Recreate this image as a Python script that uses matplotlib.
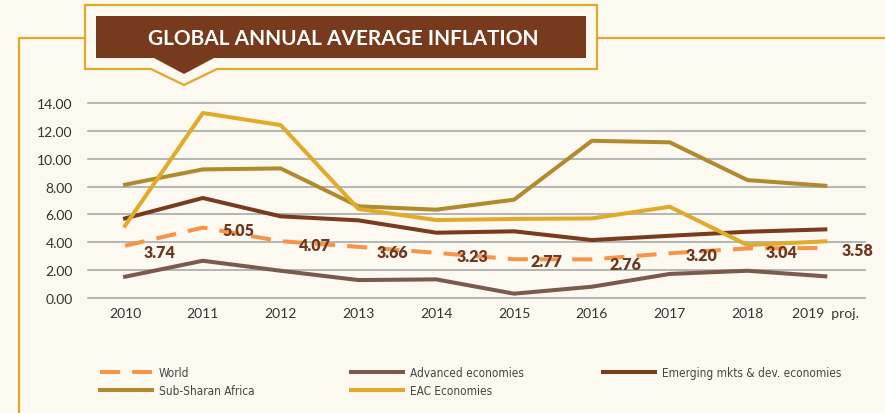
import matplotlib
matplotlib.use("Agg")
import matplotlib.pyplot as plt
from matplotlib.patches import Polygon
from matplotlib.lines import Line2D
from matplotlib import font_manager

# data
years = ["2010", "2011", "2012", "2013", "2014", "2015", "2016", "2017", "2018", "2019  proj."]
world = [3.74, 5.05, 4.07, 3.66, 3.23, 2.77, 2.76, 3.20, 3.55, 3.58]
world_labels = ["3.74", "5.05", "4.07", "3.66", "3.23", "2.77", "2.76", "3.20", "3.04", "3.58"]
advanced = [1.51, 2.66, 1.94, 1.27, 1.32, 0.29, 0.79, 1.71, 1.94, 1.54]
emerging = [5.71, 7.18, 5.86, 5.57, 4.68, 4.78, 4.15, 4.46, 4.75, 4.92]
ssa = [8.14, 9.24, 9.31, 6.58, 6.34, 7.06, 11.30, 11.19, 8.47, 8.06]
eac = [5.18, 13.30, 12.43, 6.39, 5.59, 5.67, 5.71, 6.55, 3.79, 4.06]
yticks = [0, 2, 4, 6, 8, 10, 12, 14]

# where the world value labels sit (x offset in years, y in chart units)
label_dx = [0.44, 0.46, 0.44, 0.44, 0.46, 0.42, 0.43, 0.41, 0.44, 0.42]
label_y = [3.27, 4.90, 3.82, 3.31, 3.02, 2.62, 2.43, 3.07, 3.31, 3.43]

BG = "#FCF9F0"
GOLD = "#E2A82B"
BROWN = "#783A1D"
c_world = "#F6954A"
c_adv = "#7B5A4C"
c_emg = "#7A3A1C"
c_ssa = "#B08A2C"
c_eac = "#E0AA2A"

plt.rcParams["font.family"] = ["Lato", "DejaVu Sans"]

W, H = 885, 414
fig = plt.figure(figsize=(W / 100, H / 100), dpi=100, facecolor=BG)


def px(x, y):
    return (x / W, 1 - y / H)


# gold frame
fig.add_artist(Line2D([px(19, 0)[0], px(19, 0)[0], px(85, 0)[0]],
                      [px(0, 414)[1], px(0, 39)[1], px(0, 39)[1]],
                      color=GOLD, lw=1.6, transform=fig.transFigure))
fig.add_artist(Line2D([px(597, 0)[0], 1], [px(0, 39)[1]] * 2,
                      color=GOLD, lw=1.6, transform=fig.transFigure))

# title box
outer = [(85, 6), (597, 6), (597, 70), (217, 70), (184, 86), (151, 70), (85, 70)]
fig.add_artist(Polygon([px(*p) for p in outer], closed=True, facecolor=BG,
                       edgecolor=GOLD, lw=1.6, transform=fig.transFigure))
inner = [(96, 17), (586, 17), (586, 59), (214, 59), (184, 75), (154, 59), (96, 59)]
fig.add_artist(Polygon([px(*p) for p in inner], closed=True, facecolor=BROWN,
                       edgecolor="none", transform=fig.transFigure))
fig.text(*px(343, 39), "GLOBAL ANNUAL AVERAGE INFLATION", color="white",
         fontsize=15, fontweight="bold", ha="center", va="center")

# chart area
ax = fig.add_axes([88 / W, 1 - 298.7 / H, (865 - 88) / W, (298.7 - 104.3) / H])
ax.set_facecolor("none")
x = list(range(len(years)))

ax.plot(x, advanced, color=c_adv, lw=2.9, zorder=3, label="Advanced economies")
ax.plot(x, emerging, color=c_emg, lw=2.9, zorder=3, label="Emerging mkts & dev. economies")
ax.plot(x, ssa, color=c_ssa, lw=2.9, zorder=3, label="Sub-Sharan Africa")
ax.plot(x, eac, color=c_eac, lw=2.9, zorder=4, label="EAC Economies")
ax.plot(x, world, color=c_world, lw=2.9, dashes=(5, 3), zorder=5, label="World")

for i, t in enumerate(world_labels):
    ax.text(i + label_dx[i], label_y[i], t, color="#6E3620", fontsize=11.5,
            fontweight="heavy", ha="center", va="center", zorder=6)

ax.set_xlim(-0.476, 9.51)
ax.set_ylim(0, 14)
ax.set_xticks(x)
ax.set_xticklabels(years)
ax.set_yticks(yticks)
ax.set_yticklabels([f"{v:.2f}" for v in yticks])
ax.tick_params(length=0, labelsize=10, labelcolor="#333333")
ax.tick_params(axis="y", pad=11)
ax.tick_params(axis="x", pad=7)
for s in ax.spines.values():
    s.set_visible(False)
ax.yaxis.grid(True, color="#A9A9A9", lw=1.2)
for g in ax.get_ygridlines():
    g.set_clip_on(False)
ax.set_axisbelow(True)

# legend in three columns
legend_font = font_manager.FontProperties(family="DejaVu Sans", stretch="condensed", size=8.5)
h, l = ax.get_legend_handles_labels()
hd = dict(zip(l, h))
cols = [(["World", "Sub-Sharan Africa"], 100),
        (["Advanced economies", "EAC Economies"], 351),
        (["Emerging mkts & dev. economies"], 603)]
for names, left in cols:
    leg = fig.legend([hd[n] for n in names], names, loc="upper left",
                     bbox_to_anchor=px(left, 367), frameon=False,
                     handlelength=4.4, handletextpad=0.6, labelspacing=0.45,
                     borderpad=0, borderaxespad=0, prop=legend_font)
    for t in leg.get_texts():
        t.set_color("#444444")

fig.savefig("out.png", dpi=100, facecolor=BG)
